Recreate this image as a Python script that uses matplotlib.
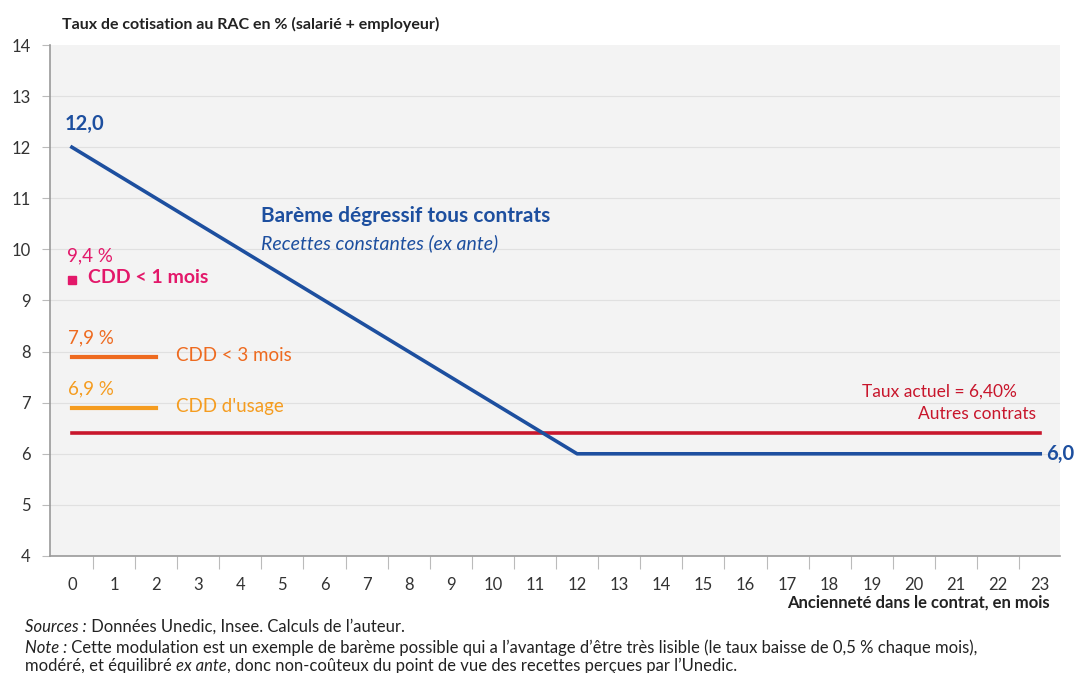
import numpy as np
import matplotlib.pyplot as plt

plt.rcParams['font.family'] = ['Lato', 'DejaVu Sans']

# data
months = list(range(24))
bareme = [12.0, 11.5, 11.0, 10.5, 10.0, 9.5, 9.0, 8.5, 8.0, 7.5, 7.0, 6.5,
          6.0, 6.0, 6.0, 6.0, 6.0, 6.0, 6.0, 6.0, 6.0, 6.0, 6.0, 6.0]
taux_actuel = [6.4] * 24
cdd_1mois_x = [0]
cdd_1mois = [9.4]
cdd_3mois_x = [0, 1, 2]
cdd_3mois = [7.9, 7.9, 7.9]
cdd_usage_x = [0, 1, 2]
cdd_usage = [6.9, 6.9, 6.9]

blue = '#1d4f9f'
red = '#c8162c'
pink = '#e3186a'
orange = '#ee6a1f'
lorange = '#f59c1f'
txt = '#222222'

fig = plt.figure(figsize=(10.81, 6.73), dpi=100)
ax = fig.add_axes([50 / 1081, 117 / 673, 1010 / 1081, 511 / 673])
ax.set_facecolor('#f3f3f3')

ax.set_xlim(-0.52, 23.47)
ax.set_ylim(4, 14)

# grid
for y in range(5, 14):
    ax.axhline(y, color='#e0e0e0', lw=0.8, zorder=1)

ax.plot(months, taux_actuel, color=red, lw=2.6, zorder=3)
ax.plot(months, bareme, color=blue, lw=2.6, zorder=4)
ax.plot(cdd_3mois_x, cdd_3mois, color=orange, lw=3, zorder=3)
ax.plot(cdd_usage_x, cdd_usage, color=lorange, lw=3, zorder=3)
ax.plot(cdd_1mois_x, cdd_1mois, 's', color=pink, ms=6, zorder=3)

# spines and ticks
for s in ['top', 'right']:
    ax.spines[s].set_visible(False)
for s in ['left', 'bottom']:
    ax.spines[s].set_color('#9a9a9a')
    ax.spines[s].set_linewidth(1.2)

ax.set_yticks(range(4, 15))
ax.set_yticklabels([str(v) for v in range(4, 15)], fontsize=12, color='#333333')
ax.tick_params(axis='y', length=6, color='#bbbbbb', pad=8)

ax.set_xticks(np.arange(0.5, 23, 1))
ax.set_xticklabels([])
ax.tick_params(axis='x', which='major', length=9, color='#bbbbbb')
ax.set_xticks(months, minor=True)
ax.set_xticklabels([str(m) for m in months], minor=True, fontsize=12, color='#333333')
ax.tick_params(axis='x', which='minor', length=0, pad=15)

# annotations
ax.text(-0.17, 12.25, '12,0', color=blue, fontsize=14.5, fontweight='bold', va='bottom')
ax.text(23.15, 6.0, '6,0', color=blue, fontsize=14.5, fontweight='bold', va='center',
        clip_on=False)
ax.text(4.5, 10.65, 'Barème dégressif tous contrats', color=blue, fontsize=15,
        fontweight='bold', va='center')
ax.text(4.5, 10.12, 'Recettes constantes (ex ante)', color=blue, fontsize=14,
        style='italic', va='center')
ax.text(-0.12, 9.88, '9,4 %', color=pink, fontsize=13.5, va='center')
ax.text(0.38, 9.45, 'CDD < 1 mois', color=pink, fontsize=14, fontweight='bold', va='center')
ax.text(-0.1, 8.27, '7,9 %', color=orange, fontsize=13.5, va='center')
ax.text(2.48, 7.93, 'CDD < 3 mois', color=orange, fontsize=13.5, va='center')
ax.text(-0.1, 7.27, '6,9 %', color=lorange, fontsize=13.5, va='center')
ax.text(2.48, 6.92, "CDD d'usage", color=lorange, fontsize=13.5, va='center')
ax.text(22.45, 7.22, 'Taux actuel = 6,40%', color=red, fontsize=12.5, ha='right', va='center')
ax.text(22.9, 6.78, 'Autres contrats', color=red, fontsize=12.5, ha='right', va='center')

fig.text(62 / 1081, 1 - 24 / 673, 'Taux de cotisation au RAC en % (salarié + employeur)',
         fontsize=11.5, fontweight='bold', color=txt, va='center')
fig.text(1050 / 1081, 1 - 603 / 673, 'Ancienneté dans le contrat, en mois',
         fontsize=12, fontweight='bold', color=txt, ha='right', va='center')

# footnotes
fs = 12
t = fig.text(25 / 1081, 1 - 632 / 673, 'Sources :', fontsize=fs, color=txt,
             va='baseline', style='italic')
ax.annotate(' Données Unedic, Insee. Calculs de l\u2019auteur.', xy=(1, 0),
            xycoords=t, va='bottom', fontsize=fs, color=txt, annotation_clip=False)
t = fig.text(25 / 1081, 1 - 653 / 673, 'Note :', fontsize=fs, color=txt,
             va='baseline', style='italic')
ax.annotate(' Cette modulation est un exemple de barème possible qui a l\u2019avantage '
            'd\u2019être très lisible (le taux baisse de 0,5 % chaque mois),',
            xy=(1, 0), xycoords=t, va='bottom', fontsize=fs, color=txt,
            annotation_clip=False)
t = fig.text(25 / 1081, 1 - 671 / 673, 'modéré, et équilibré ', fontsize=fs, color=txt,
             va='baseline')
t = ax.annotate('ex ante', xy=(1, 0), xycoords=t, va='bottom', fontsize=fs, color=txt,
                style='italic', annotation_clip=False)
ax.annotate(', donc non-coûteux du point de vue des recettes perçues par l\u2019Unedic.',
            xy=(1, 0), xycoords=t, va='bottom', fontsize=fs, color=txt,
            annotation_clip=False)

fig.savefig('out.png', dpi=100)
